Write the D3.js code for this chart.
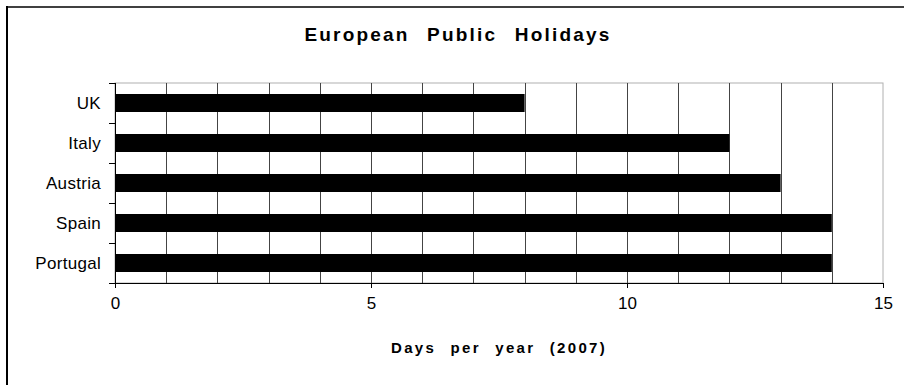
<!DOCTYPE html>
<html>
<head>
<meta charset="utf-8">
<script src="https://cdn.jsdelivr.net/npm/d3@7"></script>
<style>
  body { margin: 0; background: #fff; }
  text { font-family: "Liberation Sans", Arial, sans-serif; }
</style>
</head>
<body>
<div id="chart"></div>
<script>
// chart data
var countries = ["UK", "Italy", "Austria", "Spain", "Portugal"];
var holidays  = [8, 12, 13, 14, 14];
var xTicks    = [0, 5, 10, 15];

var W = 904, H = 385;
var margin = {top: 83, right: 21, bottom: 102, left: 115},
    width  = W - margin.left - margin.right,
    height = H - margin.top - margin.bottom;

var svg = d3.select("#chart").append("svg")
            .attr("width", W)
            .attr("height", H);

// outer frame (only top + left visible)
svg.append("line").attr("x1", 7).attr("x2", W).attr("y1", 7).attr("y2", 7)
   .attr("stroke", "#404040").attr("stroke-width", 2);
svg.append("line").attr("x1", 7).attr("x2", 7).attr("y1", 6).attr("y2", H)
   .attr("stroke", "#000").attr("stroke-width", 2);

svg.append("text")
   .attr("x", 458).attr("y", 41)
   .attr("text-anchor", "middle")
   .style("font-size", "19px").style("font-weight", "bold")
   .style("letter-spacing", "2.2px")
   .style("word-spacing", "10px")
   .text("European Public Holidays");

var g = svg.append("g")
           .attr("transform", "translate(" + margin.left + "," + margin.top + ")");

var x = d3.scaleLinear().domain([0, 15]).range([0, width]);
var y = d3.scaleBand().domain(countries).range([0, height]).paddingInner(0.55).paddingOuter(0.275);

// plot border (light grey)
g.append("rect")
 .attr("x", 0).attr("y", 0).attr("width", width).attr("height", height)
 .attr("fill", "none").attr("stroke", "#b0b0b0");

// vertical gridlines at each whole day
g.selectAll(".grid")
 .data(d3.range(1, 15))
 .enter().append("line")
 .attr("x1", function(d) { return Math.round(x(d)) + 0.5; })
 .attr("x2", function(d) { return Math.round(x(d)) + 0.5; })
 .attr("y1", 0).attr("y2", height)
 .attr("stroke", "#444");

// bars
g.selectAll(".bar")
 .data(holidays)
 .enter().append("rect")
 .attr("x", 0)
 .attr("y", function(d, i) { return y(countries[i]); })
 .attr("width", function(d) { return x(d); })
 .attr("height", y.bandwidth())
 .attr("fill", "#000");

// y axis: ticks at band boundaries, labels at band centres
var step = height / countries.length;
g.append("line").attr("x1", 0.5).attr("x2", 0.5).attr("y1", 0).attr("y2", height)
 .attr("stroke", "#000");
g.selectAll(".ytick")
 .data(d3.range(0, countries.length + 1))
 .enter().append("line")
 .attr("x1", -6).attr("x2", 0)
 .attr("y1", function(d) { return Math.round(d * step) + 0.5; })
 .attr("y2", function(d) { return Math.round(d * step) + 0.5; })
 .attr("stroke", "#000");
g.selectAll(".ylab")
 .data(countries)
 .enter().append("text")
 .attr("x", -14)
 .attr("y", function(d) { return y(d) + y.bandwidth() / 2; })
 .attr("dy", "0.36em")
 .attr("text-anchor", "end")
 .style("font-size", "17px")
 .style("letter-spacing", "0.3px")
 .text(function(d) { return d; });

// x axis
var xAxis = g.append("g")
             .attr("transform", "translate(0," + height + ")")
             .call(d3.axisBottom(x).tickValues(xTicks).tickSize(5).tickPadding(9));
xAxis.select(".domain").attr("stroke", "#000");
xAxis.selectAll("text").style("font-size", "17px").style("font-family", "Liberation Sans, Arial, sans-serif").attr("fill", "#000");

svg.append("text")
   .attr("x", 499).attr("y", 353)
   .attr("text-anchor", "middle")
   .style("font-size", "15px").style("font-weight", "bold")
   .style("letter-spacing", "2.3px")
   .style("word-spacing", "8px")
   .text("Days per year (2007)");
</script>
</body>
</html>
